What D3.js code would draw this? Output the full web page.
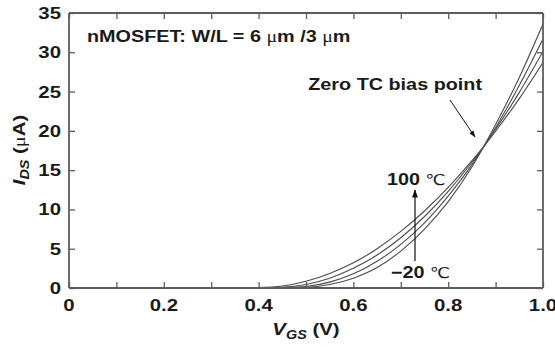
<!DOCTYPE html>
<html>
<head>
<meta charset="utf-8">
<script src="https://cdn.jsdelivr.net/npm/d3@7"></script>
<style>
  html, body { margin: 0; padding: 0; background: #fff; }
  svg { display: block; }
  text { font-family: "Liberation Sans", Arial, sans-serif; font-weight: bold; fill: #1a1a1a; }
</style>
</head>
<body>
<svg id="chart" width="555" height="347"></svg>
<script>
// Gate voltage samples (V)
const vgs = [0.33, 0.4, 0.45, 0.5, 0.55, 0.6, 0.65, 0.7, 0.75, 0.8, 0.85, 0.875, 0.9, 0.95, 1.0];
// Drain current (µA) at each temperature
const idsM20 = [0, 0, 0.02, 0.08, 0.45, 1.25, 2.6, 4.7, 7.5, 11.0, 15.4, 18.0, 20.8, 26.8, 33.6];
const ids20  = [0, 0.01, 0.06, 0.2, 0.75, 1.8, 3.4, 5.55, 8.3, 11.7, 15.7, 18.0, 20.4, 25.8, 31.7];
const ids60  = [0, 0.03, 0.1, 0.45, 1.25, 2.5, 4.2, 6.4, 9.1, 12.3, 16.0, 18.0, 20.2, 24.9, 30.1];
const ids100 = [0, 0.06, 0.25, 0.85, 1.85, 3.2, 5.0, 7.2, 9.8, 12.8, 16.2, 18.0, 19.95, 24.1, 28.7];
const seriesList = [idsM20, ids20, ids60, ids100];

const xTicks = [0, 0.1, 0.2, 0.3, 0.4, 0.5, 0.6, 0.7, 0.8, 0.9, 1.0];
const xLabels = ["0", "", "0.2", "", "0.4", "", "0.6", "", "0.8", "", "1.0"];
const yTicks = [0, 5, 10, 15, 20, 25, 30, 35];

const svg = d3.select("#chart");
const pLeft = 69, pRight = 543, pTop = 13, pBottom = 288;
const x = d3.scaleLinear().domain([0, 1]).range([pLeft, pRight]);
const y = d3.scaleLinear().domain([0, 35]).range([pBottom, pTop]);
const axisColor = "#5c5c5c";
const sx = 1.2; // horizontal stretch of the lettering

const defs = svg.append("defs");
defs.append("clipPath").attr("id", "plot")
  .append("rect").attr("x", pLeft).attr("y", pTop).attr("width", pRight - pLeft).attr("height", pBottom - pTop);

// curves
const line = d3.line().x(d => x(d[0])).y(d => y(d[1])).curve(d3.curveMonotoneX);
const g = svg.append("g").attr("clip-path", "url(#plot)");
seriesList.forEach(s => {
  g.append("path")
    .attr("d", line(vgs.map((v, i) => [v, s[i]])))
    .attr("fill", "none").attr("stroke", "#4a4a4a").attr("stroke-width", 1.1);
});

// axes with inward ticks on all four sides
const axB = svg.append("g").attr("transform", `translate(0,${pBottom})`)
  .call(d3.axisBottom(x).tickValues(xTicks).tickSize(-6).tickFormat(""));
const axT = svg.append("g").attr("transform", `translate(0,${pTop})`)
  .call(d3.axisTop(x).tickValues(xTicks).tickSize(-6).tickFormat(""));
const axL = svg.append("g").attr("transform", `translate(${pLeft},0)`)
  .call(d3.axisLeft(y).tickValues(yTicks).tickSize(-6).tickFormat(""));
const axR = svg.append("g").attr("transform", `translate(${pRight},0)`)
  .call(d3.axisRight(y).tickValues(yTicks).tickSize(-6).tickFormat(""));
[axB, axT, axL, axR].forEach(a => {
  a.selectAll(".domain").attr("stroke", axisColor).attr("stroke-width", 1.8);
  a.selectAll(".tick line").attr("stroke", axisColor).attr("stroke-width", 1.3);
});
axB.select(".domain").attr("d", `M${pLeft},0H${pRight}`);
axT.select(".domain").attr("d", `M${pLeft},0H${pRight}`);
axL.select(".domain").attr("d", `M0,${pTop}V${pBottom}`);
axR.select(".domain").attr("d", `M0,${pTop}V${pBottom}`);

function label(px, py, anchor, size) {
  return svg.append("text")
    .attr("transform", `translate(${px},${py}) scale(${sx},1)`)
    .attr("text-anchor", anchor).attr("font-size", size);
}

// tick labels
xTicks.forEach((t, i) => {
  if (xLabels[i]) label(x(t), 311, "middle", 17).text(xLabels[i]);
});
yTicks.forEach(t => {
  label(61, y(t) + 6, "end", 17).text(String(t));
});

// axis titles
const xt = label(306, 335, "middle", 17);
xt.append("tspan").attr("font-style", "italic").text("V");
xt.append("tspan").attr("font-style", "italic").attr("font-size", 12).attr("dy", 4).text("GS");
xt.append("tspan").attr("dy", -4).text(" (V)");

const yt = svg.append("text")
  .attr("transform", `translate(25,150) rotate(-90) scale(${sx},1)`)
  .attr("text-anchor", "middle").attr("font-size", 17);
yt.append("tspan").attr("font-style", "italic").text("I");
yt.append("tspan").attr("font-style", "italic").attr("font-size", 12).attr("dy", 4).text("DS");
yt.append("tspan").attr("dy", -4).text(" (");
yt.append("tspan").attr("font-family", "'Liberation Serif', serif").attr("font-weight", "normal").text("μ");
yt.append("tspan").text("A)");

// title
const tt = label(87, 42, "start", 16.5);
tt.append("tspan").text("nMOSFET: W/L = 6 ");
tt.append("tspan").attr("font-family", "'Liberation Serif', serif").attr("font-weight", "normal").text("μ");
tt.append("tspan").text("m /3 ");
tt.append("tspan").attr("font-family", "'Liberation Serif', serif").attr("font-weight", "normal").text("μ");
tt.append("tspan").text("m");

// arrowhead
defs.append("marker").attr("id", "arr")
  .attr("viewBox", "0 0 10 10").attr("refX", 9).attr("refY", 5)
  .attr("markerWidth", 7).attr("markerHeight", 7).attr("orient", "auto")
  .append("path").attr("d", "M0,1.5L10,5L0,8.5Z").attr("fill", "#111");

// zero temperature-coefficient annotation
label(482, 90, "end", 16.5).text("Zero TC bias point");
svg.append("line").attr("x1", 450).attr("y1", 100).attr("x2", 475).attr("y2", 137)
  .attr("stroke", "#111").attr("stroke-width", 1).attr("marker-end", "url(#arr)");

// temperature direction
const t100 = label(387, 185, "start", 16.5);
t100.append("tspan").text("100 ");
t100.append("tspan").attr("font-weight", "normal").attr("font-family", "'DejaVu Sans', sans-serif").attr("font-size", 15).text("℃");
const t20 = label(391, 278, "start", 16.5);
t20.append("tspan").text("−20 ");
t20.append("tspan").attr("font-weight", "normal").attr("font-family", "'DejaVu Sans', sans-serif").attr("font-size", 15).text("℃");
svg.append("line").attr("x1", 415).attr("y1", 261).attr("x2", 415).attr("y2", 190)
  .attr("stroke", "#111").attr("stroke-width", 1.2).attr("marker-end", "url(#arr)");
</script>
</body>
</html>
